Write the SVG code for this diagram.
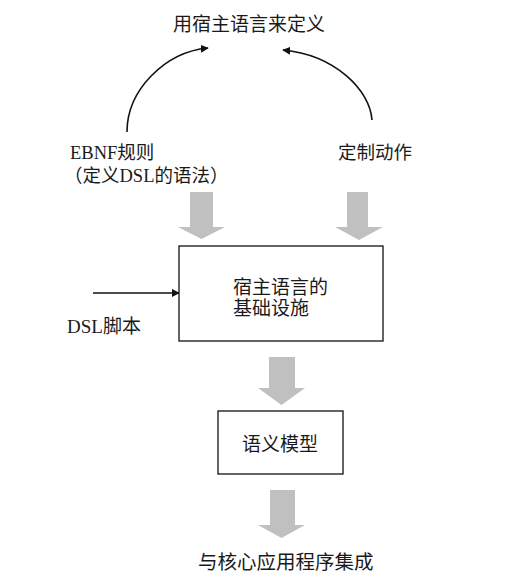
<svg xmlns="http://www.w3.org/2000/svg" width="515" height="586" viewBox="0 0 515 586">
<style>
text{font-family:"Liberation Serif","Times New Roman","DejaVu Serif","Noto Sans CJK SC",serif;fill:#1a1a1a}
.box{fill:#fff;stroke:#111;stroke-width:1.3}
.big{fill:#c0c0c0}
.con{fill:none;stroke:#111;stroke-width:1.6}
</style>
<defs>
<marker id="ah" viewBox="0 0 10 10" refX="9" refY="5" markerWidth="5" markerHeight="5" orient="auto" markerUnits="strokeWidth">
<path d="M0,0 L10,5 L0,10 z" fill="#111"/>
</marker>
</defs>
<rect width="515" height="586" fill="#fff"/>
<g id="connectors">
<path class="con" d="M127,132 C127,90 165,52 208,48" marker-end="url(#ah)"/>
<path class="con" d="M372,120 C370,90 335,55 283,50" marker-end="url(#ah)"/>
<path class="con" d="M93,293 L179,293" marker-end="url(#ah)"/>
<path class="big" d="M190,192 H213 V227 H225 L201.5,239 L178,227 H190 Z"/>
<path class="big" d="M347,192 H368 V227 H383 L359,240 L335,227 H347 Z"/>
<path class="big" d="M269,357 H295 V388 H305 L281.5,405 L258,388 H269 Z"/>
<path class="big" d="M270,490 H295 V525 H305 L281.5,538 L258,525 H270 Z"/>
</g>
<g id="title"><text x="173" y="31" font-size="19">用宿主语言来定义</text></g>
<g id="ebnf"><text x="70" y="159" font-size="18.5">EBNF规则</text><text x="64" y="182" font-size="18.5">（定义DSL的语法）</text></g>
<g id="actions"><text x="338" y="159" font-size="18.5">定制动作</text></g>
<g id="infra"><rect class="box" x="179" y="246" width="204" height="95"/><text x="233" y="294" font-size="19">宿主语言的</text><text x="233" y="315" font-size="19">基础设施</text></g>
<g id="script"><text x="67" y="333" font-size="19">DSL脚本</text></g>
<g id="model"><rect class="box" x="218" y="411" width="125" height="63"/><text x="242" y="451" font-size="19">语义模型</text></g>
<g id="integrate"><text x="198" y="569" font-size="19.5">与核心应用程序集成</text></g>
</svg>
